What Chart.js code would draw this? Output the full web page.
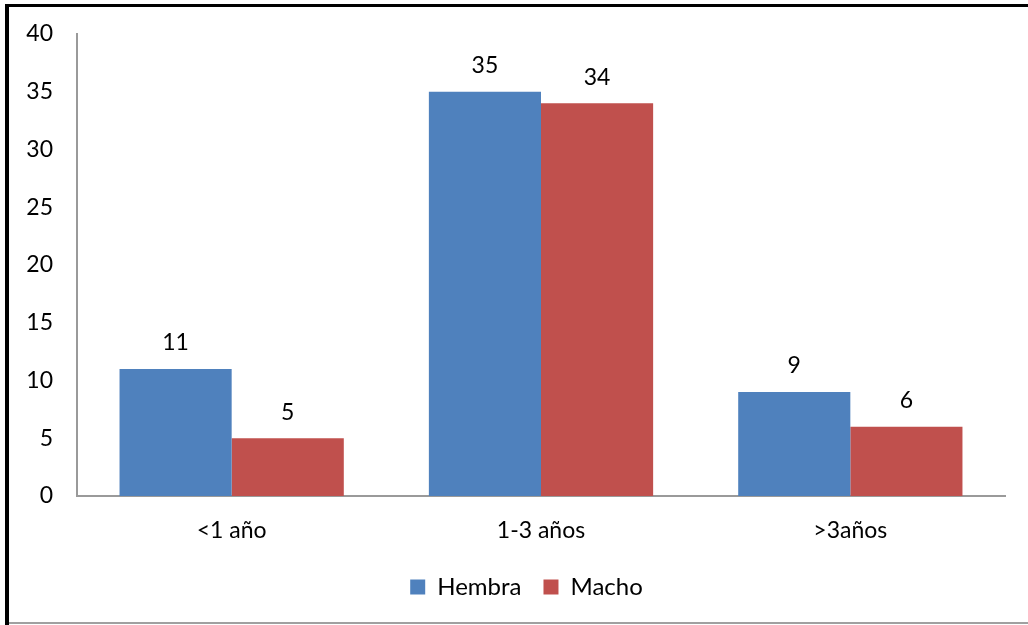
<!DOCTYPE html>
<html>
<head>
<meta charset="utf-8">
<script src="https://cdn.jsdelivr.net/npm/chart.js@4"></script>
<style>
  html, body { margin: 0; padding: 0; background: #fff; }
  #wrap { position: relative; width: 1028px; height: 625px; overflow: hidden; }
  #frame-left { position: absolute; left: 5px; top: 4px; width: 4px; height: 621px; background: #000; }
  #frame-top { position: absolute; left: 5px; top: 4px; width: 1023px; height: 3px; background: #000; }
  #frame-bottom { position: absolute; left: 9px; top: 622px; width: 1019px; height: 2px; background: #a0a0a0; }
  canvas { position: absolute; left: 0; top: 0; }
</style>
</head>
<body>
<div id="wrap">
  <canvas id="c" width="1028" height="625"></canvas>
  <div id="frame-left"></div>
  <div id="frame-top"></div>
  <div id="frame-bottom"></div>
</div>
<script>
const categories = ['<1 año', '1-3 años', '>3años'];
const hembra = [11, 35, 9];
const macho = [5, 34, 6];
const seriesNames = ['Hembra', 'Macho'];

const FONT = 'Lato, "Open Sans", sans-serif';
const TEXT_SIZE = 23;

// Writes each bar's value just above it
const valueLabels = {
  id: 'valueLabels',
  afterDatasetsDraw(chart) {
    const ctx = chart.ctx;
    ctx.save();
    ctx.font = TEXT_SIZE + 'px ' + FONT;
    ctx.fillStyle = '#000';
    ctx.textAlign = 'center';
    ctx.textBaseline = 'middle';
    chart.data.datasets.forEach((ds, i) => {
      chart.getDatasetMeta(i).data.forEach((bar, j) => {
        ctx.fillText(String(ds.data[j]), bar.x, bar.y - 26);
      });
    });
    ctx.restore();
  }
};

// Centres the legend under the plot rather than under the whole canvas
const legendShift = {
  id: 'legendShift',
  afterUpdate(chart) {
    const lg = chart.legend;
    if (!lg) return;
    const dx = 24;
    lg.left += dx;
    lg.right += dx;
    lg.adjustHitBoxes();
  }
};

new Chart(document.getElementById('c'), {
  type: 'bar',
  data: {
    labels: categories,
    datasets: [
      { label: seriesNames[0], data: hembra, backgroundColor: '#4F81BD' },
      { label: seriesNames[1], data: macho, backgroundColor: '#C0504D' }
    ]
  },
  options: {
    responsive: false,
    animation: false,
    layout: { padding: { top: 34, right: 23, left: 0, bottom: 16 } },
    datasets: { bar: { categoryPercentage: 0.725, barPercentage: 1.0 } },
    plugins: {
      tooltip: { enabled: false },
      legend: {
        position: 'bottom',
        labels: {
          boxWidth: 15,
          boxHeight: 15,
          padding: 22,
          color: '#000',
          font: { family: FONT, size: 24 }
        }
      }
    },
    scales: {
      x: {
        grid: { display: false },
        border: { display: true, color: '#9a9a9a', width: 2 },
        ticks: { color: '#000', font: { family: FONT, size: TEXT_SIZE }, padding: 13 },
        afterFit(scale) { scale.height = 57; }
      },
      y: {
        min: 0,
        max: 40,
        grid: { display: false },
        border: { display: true, color: '#9a9a9a', width: 2 },
        ticks: { stepSize: 5, color: '#000', font: { family: FONT, size: TEXT_SIZE }, padding: 16 },
        afterFit(scale) { scale.width = 77; }
      }
    }
  },
  plugins: [valueLabels, legendShift]
});
</script>
</body>
</html>
